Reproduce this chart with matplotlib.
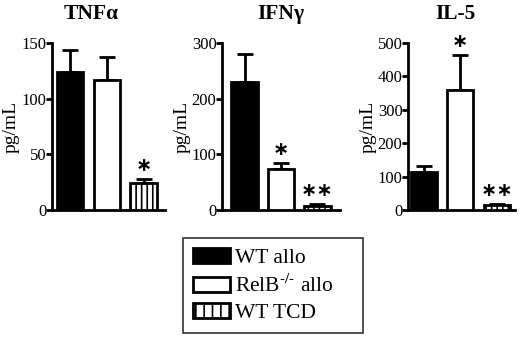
import matplotlib.pyplot as plt
import numpy as np

groups = ["WT allo", "RelB$^{\\text{-/-}}$ allo", "WT TCD"]
titles = ["TNF\u03b1", "IFN\u03b3", "IL-5"]
means = [[124, 117, 24], [230, 74, 7], [114, 359, 15]]
errs = [[20, 20, 4], [50, 10, 3], [18, 105, 3]]
stars = [["", "", "\u2217"], ["", "\u2217", "\u2217\u2217"], ["", "\u2217", "\u2217\u2217"]]
ymax = [150, 300, 500]
yticks = [[0, 50, 100, 150], [0, 100, 200, 300], [0, 100, 200, 300, 400, 500]]

colors = ["black", "white", "white"]
hatches = [None, None, "|||"]

plt.rcParams["font.family"] = ["Liberation Serif", "DejaVu Serif"]
plt.rcParams["mathtext.fontset"] = "stix"
plt.rcParams["hatch.linewidth"] = 1.2

fig = plt.figure(figsize=(5.2, 3.37), dpi=100)

# left, right, xlim per panel (pixels from reference)
lefts = [52, 222, 408]
rights = [165, 340, 515]
xlims = [(-0.49, 2.58), (-0.62, 2.62), (-0.43, 2.5)]
title_x = [0.35, 0.5, 0.44]

x = np.arange(3)
for i in range(3):
    ax = fig.add_axes([lefts[i] / 520, 1 - 210 / 337, (rights[i] - lefts[i]) / 520, 167 / 337])
    for j in range(3):
        ax.bar(x[j], means[i][j], 0.72, color=colors[j], edgecolor="black",
               linewidth=2, hatch=hatches[j], zorder=3)
        ax.errorbar(x[j], means[i][j], yerr=[[0], [errs[i][j]]], color="black",
                    elinewidth=2, capsize=6, capthick=2, zorder=2)
        if stars[i][j]:
            ax.text(x[j], means[i][j] + errs[i][j] + ymax[i] * 0.025, stars[i][j],
                    ha="center", va="bottom", fontsize=14, fontweight="bold",
                    family="DejaVu Sans")
    ax.set_xlim(*xlims[i])
    ax.set_ylim(0, ymax[i])
    ax.set_yticks(yticks[i])
    ax.set_xticks([])
    ax.spines["top"].set_visible(False)
    ax.spines["right"].set_visible(False)
    ax.spines["left"].set_linewidth(2)
    ax.spines["bottom"].set_linewidth(2)
    ax.tick_params(axis="y", width=2, length=4, labelsize=12, pad=0)
    ax.set_ylabel("pg/mL", fontsize=14, labelpad=1)
    ax.set_title(titles[i], fontsize=15.5, fontweight="bold", pad=17, x=title_x[i])

handles = [plt.Rectangle((0, 0), 1, 1, facecolor=colors[j], edgecolor="black",
                         linewidth=2, hatch=["", "", "||"][j]) for j in range(3)]
leg = fig.legend(handles, groups, loc="lower left",
                 bbox_to_anchor=(183 / 520, 4 / 337, 180 / 520, 94 / 337), mode="expand",
                 fontsize=15.5, frameon=True, fancybox=False, edgecolor="black",
                 handlelength=1.75, handleheight=0.7, handletextpad=0.2,
                 labelspacing=0.3, borderpad=0.45, borderaxespad=0)
leg.get_frame().set_linewidth(1.2)

fig.savefig("out.png", dpi=100)
